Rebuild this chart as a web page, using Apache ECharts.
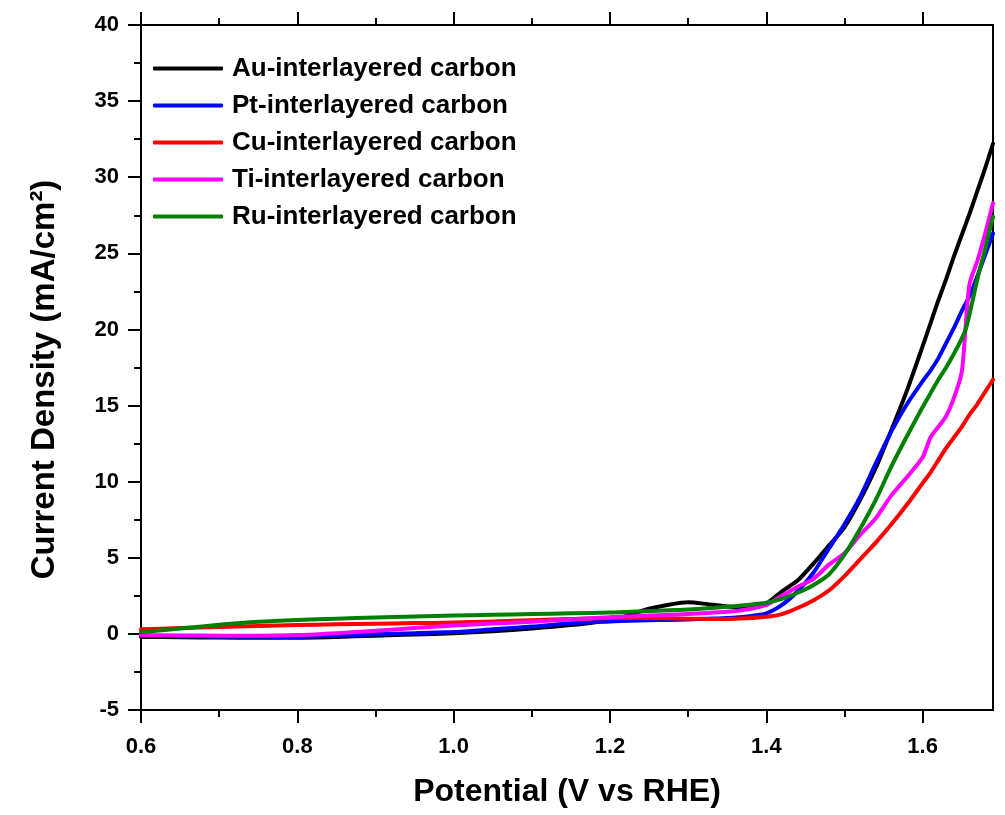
<!DOCTYPE html>
<html>
<head>
<meta charset="utf-8">
<script src="https://cdn.jsdelivr.net/npm/echarts@6/dist/echarts.min.js"></script>
<style>
  html, body { margin: 0; padding: 0; background: #fff; }
  #chart { width: 1005px; height: 815px; }
</style>
</head>
<body>
<div id="chart"></div>
<script>
// Potential (V vs RHE) sample grid shared by all curves
const potential = [0.60,0.65,0.70,0.75,0.80,0.85,0.90,0.95,1.00,1.05,
  1.10,1.15,1.20,1.225,1.25,1.275,1.30,1.325,1.35,1.375,
  1.40,1.42,1.44,1.46,1.48,1.50,1.52,1.54,1.56,1.58,
  1.60,1.61,1.62,1.63,1.64,1.65,1.655,1.66,1.67,1.68,1.69];

// Current density (mA/cm^2)
const auCarbon = [-0.2,-0.22,-0.24,-0.25,-0.25,-0.2,-0.12,-0.04,0.04,0.18,
  0.35,0.58,0.9,1.25,1.65,1.92,2.08,1.95,1.8,1.72,
  2.0,2.8,3.5,4.6,5.8,7.0,8.8,10.9,13.4,16.0,
  18.9,20.4,21.9,23.3,24.8,26.2,26.9,27.6,29.1,30.6,32.2];
const ptCarbon = [-0.12,-0.15,-0.17,-0.19,-0.2,-0.12,-0.03,0.05,0.12,0.3,
  0.48,0.7,0.82,0.87,0.9,0.92,0.95,1.0,1.05,1.15,
  1.35,1.9,2.8,4.0,5.6,7.2,9.0,11.2,13.3,15.1,
  16.6,17.3,18.1,19.1,20.1,21.2,21.7,22.2,23.5,24.9,26.3];
const cuCarbon = [0.3,0.38,0.45,0.52,0.58,0.63,0.67,0.71,0.74,0.82,
  0.9,0.98,1.05,1.05,1.05,1.03,1.0,0.98,0.97,1.02,
  1.12,1.3,1.7,2.2,2.85,3.8,4.9,6.0,7.2,8.5,
  9.9,10.6,11.4,12.2,12.9,13.6,14.0,14.4,15.1,15.9,16.7];
const tiCarbon = [-0.07,-0.1,-0.12,-0.12,-0.08,0.05,0.2,0.38,0.55,0.68,
  0.8,0.95,1.1,1.15,1.2,1.25,1.3,1.38,1.45,1.6,
  1.9,2.5,3.1,3.6,4.55,5.3,6.5,7.6,9.1,10.3,
  11.6,12.9,13.6,14.3,15.5,17.2,20.2,23.0,24.5,26.3,28.3];
const ruCarbon = [0.12,0.35,0.6,0.8,0.92,1.0,1.08,1.14,1.2,1.25,
  1.3,1.36,1.4,1.45,1.5,1.55,1.6,1.68,1.78,1.9,
  2.05,2.3,2.7,3.2,3.9,5.2,6.9,8.8,11.0,13.0,
  14.9,15.8,16.7,17.5,18.4,19.4,20.0,21.0,23.3,25.3,27.4];

const seriesNames = ['Au-interlayered carbon','Pt-interlayered carbon','Cu-interlayered carbon','Ti-interlayered carbon','Ru-interlayered carbon'];
const seriesValues = [auCarbon, ptCarbon, cuCarbon, tiCarbon, ruCarbon];
const seriesColors = ['#000000','#0000ff','#ff0000','#ff00ff','#008000'];

const xMajorTicks = [0.6,0.8,1.0,1.2,1.4,1.6];
const xMinorTicks = [0.7,0.9,1.1,1.3,1.5];

const FONT = '"Liberation Sans", Arial, sans-serif';

const chart = echarts.init(document.getElementById('chart'));

const xBase = {
  type: 'value', min: 0.6, max: 1.69, gridIndex: 0,
  splitLine: { show: false }
};

const option = {
  backgroundColor: '#ffffff',
  animation: false,
  grid: { left: 141, right: 12, top: 25, bottom: 105, show: true, borderColor: '#000', borderWidth: 2, backgroundColor: 'transparent' },
  legend: {
    orient: 'vertical', left: 148, top: 50,
    icon: 'roundRect',
    itemWidth: 70, itemHeight: 4, itemGap: 10,
    data: seriesNames,
    textStyle: { fontFamily: FONT, fontWeight: 'bold', fontSize: 26, color: '#000', lineHeight: 27, padding: [0,0,0,4] }
  },
  xAxis: [
    Object.assign({}, xBase, {
      position: 'bottom',
      name: 'Potential (V vs RHE)', nameLocation: 'middle', nameGap: 66,
      nameTextStyle: { fontFamily: FONT, fontWeight: 'bold', fontSize: 32, color: '#000' },
      axisLine: { show: true, onZero: false, lineStyle: { color: '#000', width: 2 } },
      axisTick: { show: true, inside: false, length: 13, customValues: xMajorTicks, lineStyle: { color: '#000', width: 2 } },
      axisLabel: { show: true, margin: 26, customValues: xMajorTicks, fontFamily: FONT, fontWeight: 'bold', fontSize: 22, color: '#000',
        formatter: v => v.toFixed(1) }
    }),
    Object.assign({}, xBase, {
      position: 'bottom',
      axisLine: { show: false, onZero: false },
      axisTick: { show: true, inside: false, length: 7, customValues: xMinorTicks, lineStyle: { color: '#000', width: 2 } },
      axisLabel: { show: false }
    }),
    Object.assign({}, xBase, {
      position: 'top',
      axisLine: { show: false, onZero: false },
      axisTick: { show: true, inside: false, length: 13, customValues: xMajorTicks, lineStyle: { color: '#000', width: 2 } },
      axisLabel: { show: false }
    }),
    Object.assign({}, xBase, {
      position: 'top',
      axisLine: { show: false, onZero: false },
      axisTick: { show: true, inside: false, length: 7, customValues: xMinorTicks, lineStyle: { color: '#000', width: 2 } },
      axisLabel: { show: false }
    })
  ],
  yAxis: [{
    type: 'value', min: -5, max: 40, interval: 5,
    name: 'Current Density (mA/cm²)', nameLocation: 'middle', nameGap: 80,
    nameTextStyle: { fontFamily: FONT, fontWeight: 'bold', fontSize: 33, color: '#000', padding: [0, 24, 0, 0] },
    axisLine: { show: true, onZero: false, lineStyle: { color: '#000', width: 2 } },
    axisTick: { show: true, inside: false, length: 13, lineStyle: { color: '#000', width: 2 } },
    minorTick: { show: true, splitNumber: 2, length: 7, lineStyle: { color: '#000', width: 2 } },
    splitLine: { show: false },
    axisLabel: { margin: 22, fontFamily: FONT, fontWeight: 'bold', fontSize: 22, color: '#000' }
  }],
  series: seriesNames.map((name, i) => ({
    name: name,
    type: 'line',
    xAxisIndex: 0,
    yAxisIndex: 0,
    data: potential.map((p, j) => [p, seriesValues[i][j]]),
    showSymbol: false,
    symbol: 'none',
    smooth: 0.25,
    clip: true,
    color: seriesColors[i],
    itemStyle: { color: seriesColors[i] },
    lineStyle: { color: seriesColors[i], width: 4, cap: 'round', join: 'round' }
  }))
};

chart.setOption(option);
</script>
</body>
</html>
